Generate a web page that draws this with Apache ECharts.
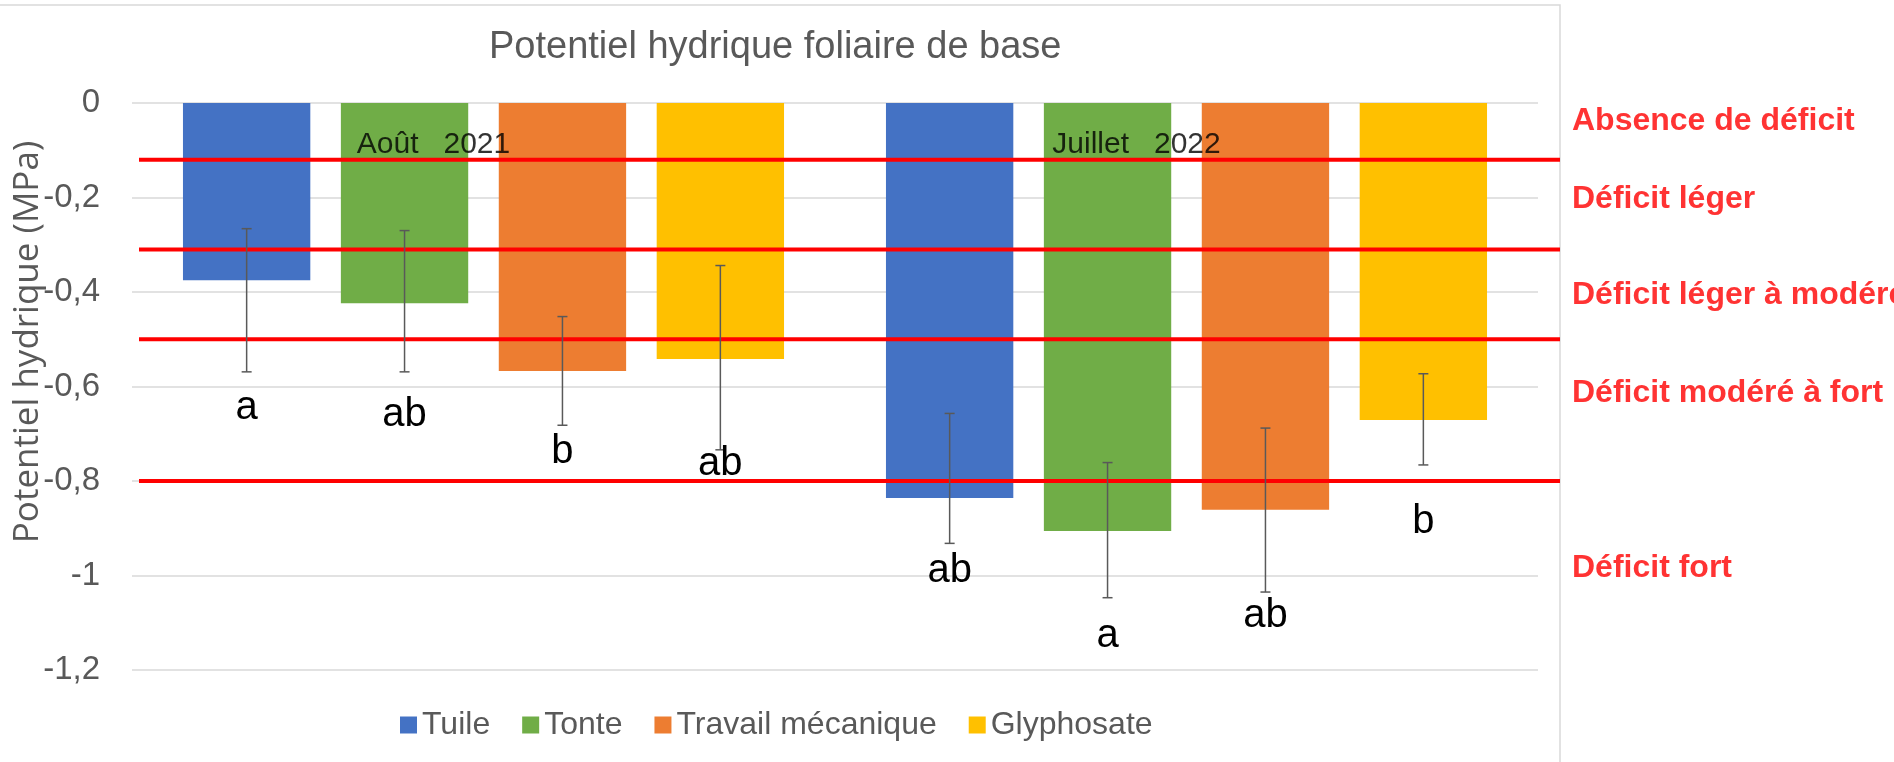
<!DOCTYPE html>
<html lang="fr">
<head>
  <meta charset="UTF-8">
  <title>Potentiel hydrique foliaire de base</title>
  <script src="https://cdn.jsdelivr.net/npm/echarts@6.0.0/dist/echarts.min.js"></script>
  <style>
    body { margin: 0; background: #fff; }
    #chart { width: 1894px; height: 762px; }
  </style>
</head>
<body>
  <div id="chart"></div>
  <script>
    // periods (category axis)
    const categories = ['Août 2021', 'Juillet 2022'];
    const treatments = ['Tuile', 'Tonte', 'Travail mécanique', 'Glyphosate'];
    const colors = ['#4472C4', '#70AD47', '#ED7D31', '#FFC000'];

    // mean leaf water potential (MPa), one array per treatment
    const tuile = [-0.375, -0.836];
    const tonte = [-0.424, -0.906];
    const travail = [-0.567, -0.861];
    const glyphosate = [-0.542, -0.671];
    const means = [tuile, tonte, travail, glyphosate];

    // error bar ends [top, bottom]
    const tuileErr = [[-0.266, -0.569], [-0.657, -0.932]];
    const tonteErr = [[-0.270, -0.569], [-0.761, -1.047]];
    const travailErr = [[-0.452, -0.682], [-0.688, -1.035]];
    const glyphosateErr = [[-0.344, -0.734], [-0.573, -0.766]];
    const errors = [tuileErr, tonteErr, travailErr, glyphosateErr];

    // statistical group letters and where they sit (MPa)
    const letters = [['a', 'ab'], ['ab', 'a'], ['b', 'ab'], ['ab', 'b']];
    const letterY = [[-0.645, -0.990], [-0.660, -1.128], [-0.739, -1.086], [-0.764, -0.887]];

    // deficit thresholds and zone names
    const thresholds = [-0.12, -0.31, -0.50, -0.80];
    const zoneNames = ['Absence de déficit', 'Déficit léger', 'Déficit léger à modéré', 'Déficit modéré à fort', 'Déficit fort'];
    const zoneLabelY = [-0.038, -0.203, -0.406, -0.614, -0.984];
    const periodLabelY = -0.089;

    const narrow = '"Liberation Sans Narrow", "Arial Narrow", sans-serif';
    const BAR_GAP = '24%';
    const CAT_GAP = '14.5%';

    const chart = echarts.init(document.getElementById('chart'), null, { renderer: 'canvas' });

    const barSeries = treatments.map((name, i) => ({
      name: name,
      type: 'bar',
      data: means[i],
      barGap: BAR_GAP,
      barCategoryGap: CAT_GAP,
      itemStyle: { color: colors[i] },
      z: 2
    }));

    // error bars + letters, placed on the bar slot of their treatment
    const errSeries = treatments.map((name, i) => ({
      type: 'custom',
      name: name + ' err',
      data: errors[i].map((e, k) => [k, e[0], e[1], letterY[i][k]]),
      encode: { x: 0, y: [1, 2, 3] },
      z: 6,
      silent: true,
      renderItem: function (params, api) {
        const cat = api.value(0);
        const layout = api.barLayout({ barGap: BAR_GAP, barCategoryGap: CAT_GAP, count: treatments.length });
        const off = layout[i].offsetCenter;
        const p1 = api.coord([cat, api.value(1)]);
        const p2 = api.coord([cat, api.value(2)]);
        const pl = api.coord([cat, api.value(3)]);
        const x = p1[0] + off;
        const cap = 5;
        const st = { stroke: '#595959', lineWidth: 1.5 };
        return {
          type: 'group',
          children: [
            { type: 'line', shape: { x1: x, y1: p1[1], x2: x, y2: p2[1] }, style: st },
            { type: 'line', shape: { x1: x - cap, y1: p1[1], x2: x + cap, y2: p1[1] }, style: st },
            { type: 'line', shape: { x1: x - cap, y1: p2[1], x2: x + cap, y2: p2[1] }, style: st },
            {
              type: 'text',
              style: {
                text: letters[i][params.dataIndex],
                x: x, y: pl[1],
                align: 'center', verticalAlign: 'middle',
                fill: '#000', fontSize: 40,
                fontFamily: '"Liberation Sans", Arial, sans-serif'
              }
            }
          ]
        };
      }
    }));

    // red threshold lines, on an overlay grid that runs out to the chart border
    const thresholdSeries = thresholds.map(t => ({
      type: 'line',
      xAxisIndex: 1,
      yAxisIndex: 1,
      data: [[0, t], [1, t]],
      symbol: 'none',
      silent: true,
      lineStyle: { color: '#FF0000', width: 4 },
      z: 4
    }));

    const option = {
      animation: false,
      backgroundColor: '#fff',
      title: {
        text: 'Potentiel hydrique foliaire de base',
        left: 484,
        top: 24,
        textStyle: { color: '#595959', fontSize: 38, fontWeight: 'normal', fontFamily: narrow }
      },
      legend: {
        data: treatments,
        bottom: 16,
        left: 395,
        itemWidth: 17,
        itemHeight: 17,
        itemGap: 32,
        icon: 'rect',
        textStyle: { color: '#595959', fontSize: 32, fontFamily: narrow }
      },
      graphic: [
        {
          type: 'rect',
          silent: true,
          z: -10,
          shape: { x: -2, y: 5, width: 1562, height: 800 },
          style: { fill: 'none', stroke: '#D9D9D9', lineWidth: 1.5 }
        },
        {
          // y axis title
          type: 'text',
          silent: true,
          x: 28,
          y: 342,
          rotation: Math.PI / 2,
          style: {
            text: 'Potentiel hydrique (MPa)',
            fill: '#595959',
            fontSize: 35,
            fontFamily: '"Open Sans", sans-serif',
            align: 'center',
            verticalAlign: 'middle'
          }
        }
      ],
      grid: [
        { left: 132, right: 356, top: 103, bottom: 92, outerBoundsMode: 'none', containLabel: false },
        { left: 139, right: 334, top: 103, bottom: 92, outerBoundsMode: 'none', containLabel: false }
      ],
      xAxis: [
        {
          type: 'category',
          data: categories,
          gridIndex: 0,
          axisLine: { show: false },
          axisTick: { show: false },
          axisLabel: { show: false }
        },
        { type: 'value', gridIndex: 1, min: 0, max: 1, show: false }
      ],
      yAxis: [
        {
          type: 'value',
          gridIndex: 0,
          min: -1.2,
          max: 0,
          interval: 0.2,
          axisLine: { show: false },
          axisTick: { show: false },
          axisLabel: {
            color: '#595959',
            fontSize: 33,
            fontFamily: narrow,
            margin: 32,
            formatter: v => String(Math.round(v * 10) / 10).replace('.', ',')
          },
          splitLine: { lineStyle: { color: '#D9D9D9', width: 1.5 } }
        },
        { type: 'value', gridIndex: 1, min: -1.2, max: 0, show: false }
      ],
      series: [
        ...barSeries,
        ...thresholdSeries,
        ...errSeries,
        {
          // period annotations inside the plot
          type: 'scatter',
          symbolSize: 0,
          silent: true,
          data: categories.map((c, k) => [k, periodLabelY]),
          label: {
            show: true,
            position: 'inside',
            offset: [-50, 0],
            formatter: p => categories[p.dataIndex].replace(' ', '   '),
            color: '#000',
            fontSize: 30,
            fontFamily: narrow
          },
          z: 7
        },
        {
          // deficit zone names, right of the chart
          type: 'scatter',
          xAxisIndex: 1,
          yAxisIndex: 1,
          symbolSize: 0,
          silent: true,
          data: zoneLabelY.map(v => [1, v]),
          label: {
            show: true,
            position: 'right',
            distance: 12,
            formatter: p => zoneNames[p.dataIndex],
            color: '#FF0000',
            fontSize: 32,
            fontWeight: 'bold',
            fontFamily: '"Liberation Sans", Arial, sans-serif'
          },
          z: 7
        }
      ]
    };

    chart.setOption(option);
  </script>
</body>
</html>
